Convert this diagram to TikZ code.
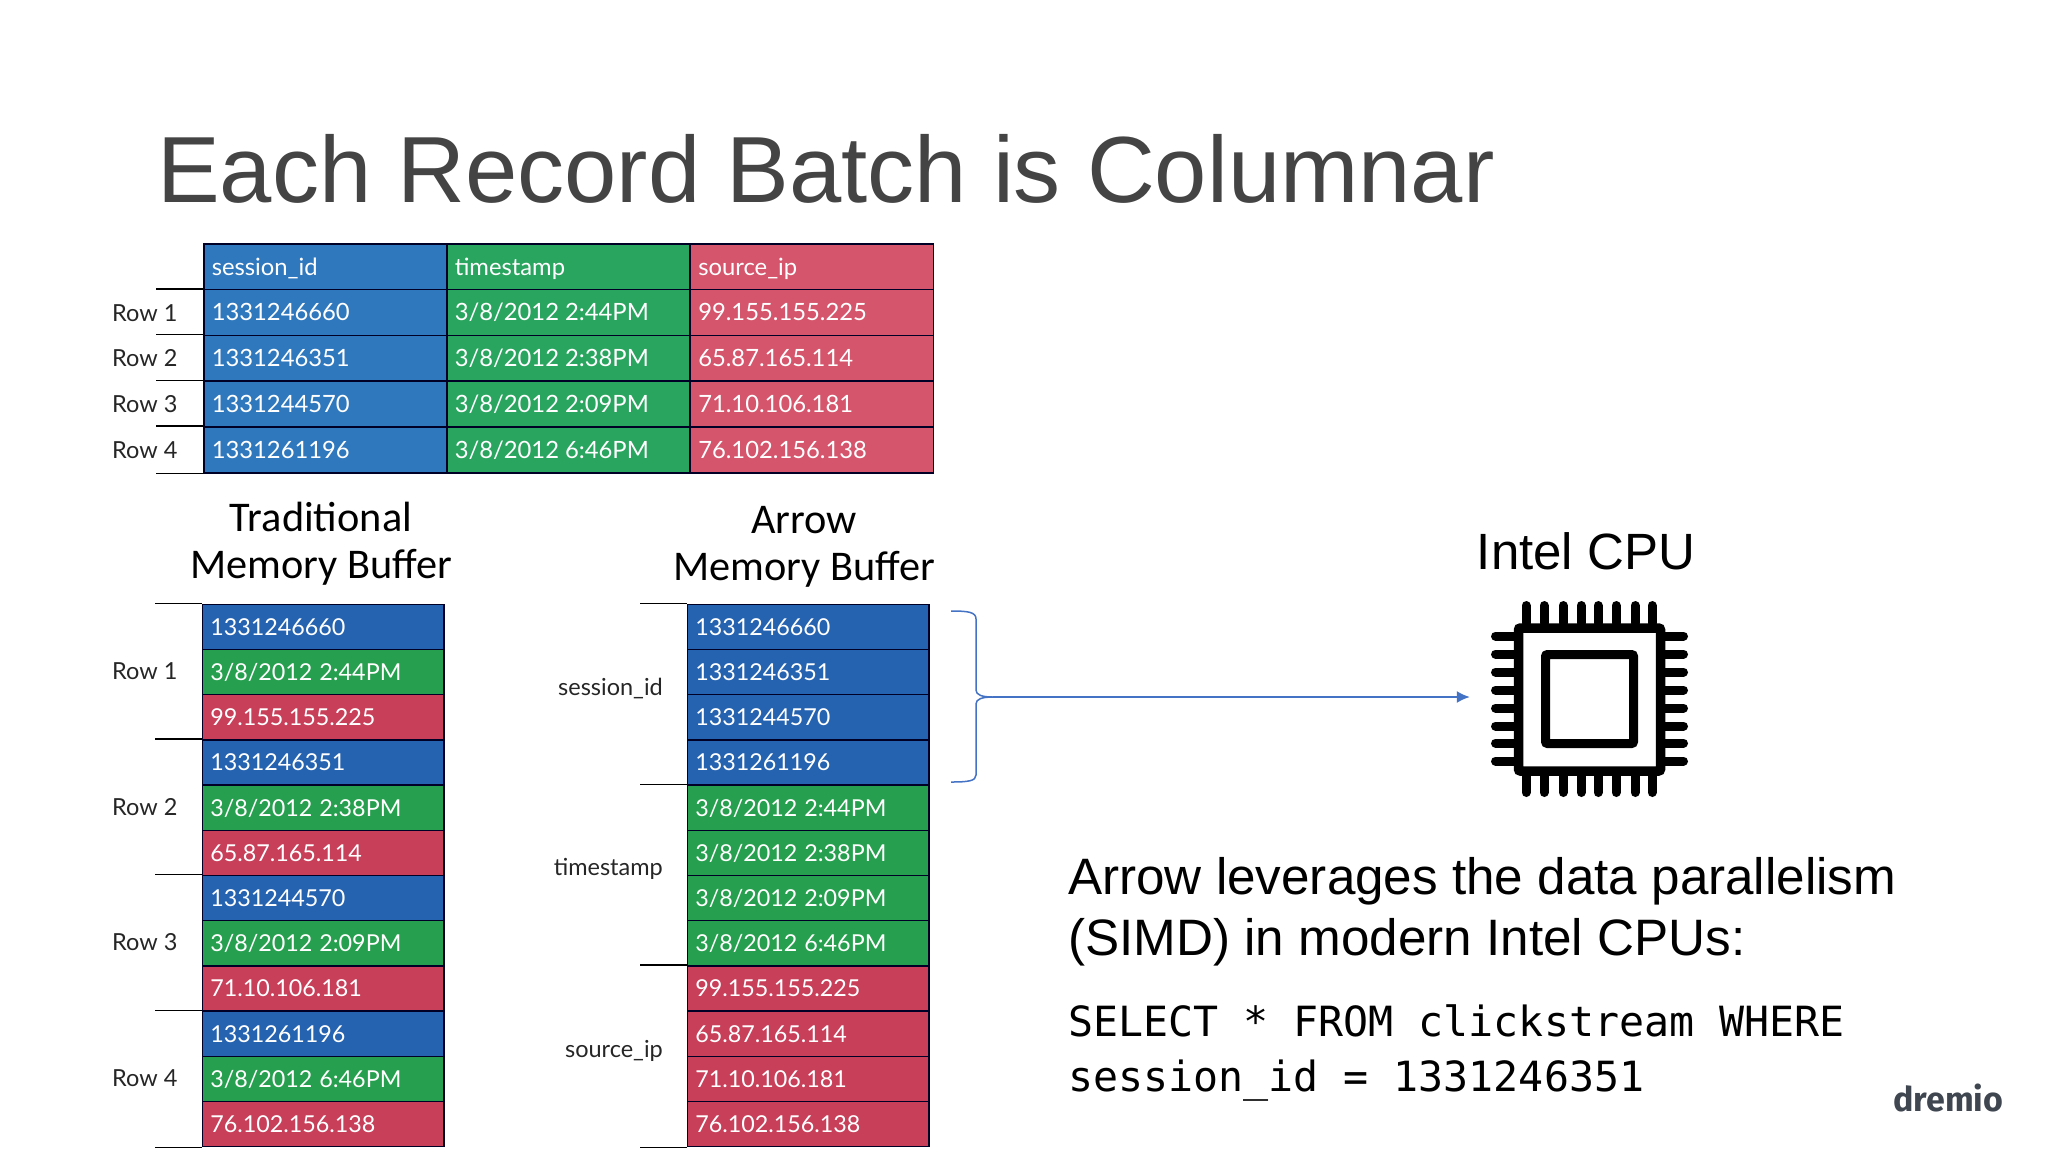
\documentclass[tikz,border=0pt]{standalone}
\usepackage{fontspec}
\setmainfont{Liberation Sans}
\newfontfamily\latofont{Lato}
\newfontfamily\carlitofont{Carlito}
\newfontfamily\monofont{DejaVu Sans Mono}
\newfontfamily\logofont{Fira Sans}[BoldFont={Fira Sans Bold}]
\usetikzlibrary{arrows.meta}
\definecolor{titlegray}{HTML}{444444}
\definecolor{topblue}{HTML}{2F78BE}
\definecolor{topgreen}{HTML}{2AA55F}
\definecolor{topred}{HTML}{D5556C}
\definecolor{memblue}{HTML}{2563B0}
\definecolor{memgreen}{HTML}{26A04E}
\definecolor{memred}{HTML}{C83F5A}
\definecolor{linkblue}{HTML}{4472C4}
\definecolor{logogray}{HTML}{3F4650}
\newcommand{\gp}{\hspace{7pt}}
\newcommand{\gq}{\hspace{6pt}}
\tikzset{
  x=1pt,y=-1pt,
  basecell/.style={draw=black!85!blue,line width=1.5pt,anchor=north west,inner xsep=8pt,inner ysep=0pt,
    text=white,align=left,text height=17pt,text depth=0pt},
  topcell/.style={basecell,minimum height=45.8pt,text width=227pt,minimum width=243pt,font=\latofont\fontsize{23.8}{24}\selectfont},
  memcell/.style={basecell,minimum height=45.2pt,text width=225.5pt,minimum width=241.5pt,font=\latofont\fontsize{23.3}{24}\selectfont},
  rowtick/.style={line width=1.5pt,black},
  sidelabel/.style={font=\latofont\fontsize{23.5}{24}\selectfont,text=black!85,inner sep=0pt},
  heading/.style={font=\carlitofont\fontsize{42.3}{47}\selectfont,align=center,inner sep=0pt,text=black},
  pin/.style={line width=9pt,line cap=round,black},
}
\newcommand{\topc}[5]{\node[topcell,fill=#4] (#1) at (#2,{243+45.8*#3}) {#5};}
\newcommand{\trad}[4]{\node[memcell,fill=#3] (#1) at (201.5,{603.5+45.2*#2}) {#4};}
\newcommand{\arrw}[4]{\node[memcell,fill=#3] (#1) at (686.5,{603.5+45.2*#2}) {#4};}
\begin{document}
\begin{tikzpicture}
\useasboundingbox (0,0) rectangle (2048,1152);
\node[anchor=base west,inner sep=0pt,text=titlegray,font=\fontsize{94}{94}\selectfont] (title) at (157,202) {Each Record Batch is Columnar};

% top table
\topc{a0}{203}{0}{topblue}{session\_id}
\topc{b0}{446}{0}{topgreen}{timestamp}
\topc{c0}{689.5}{0}{topred}{source\_ip}
\topc{a1}{203}{1}{topblue}{1331246660}
\topc{b1}{446}{1}{topgreen}{3/8/2012\gq 2:44PM}
\topc{c1}{689.5}{1}{topred}{99.155.155.225}
\topc{a2}{203}{2}{topblue}{1331246351}
\topc{b2}{446}{2}{topgreen}{3/8/2012\gq 2:38PM}
\topc{c2}{689.5}{2}{topred}{65.87.165.114}
\topc{a3}{203}{3}{topblue}{1331244570}
\topc{b3}{446}{3}{topgreen}{3/8/2012\gq 2:09PM}
\topc{c3}{689.5}{3}{topred}{71.10.106.181}
\topc{a4}{203}{4}{topblue}{1331261196}
\topc{b4}{446}{4}{topgreen}{3/8/2012\gq 6:46PM}
\topc{c4}{689.5}{4}{topred}{76.102.156.138}
\foreach \r in {1,2,3,4}{\draw[rowtick] (a\r.north west) -- ++(-47,0);}
\draw[rowtick] (a4.south west) -- ++(-47,0);
\node[sidelabel,anchor=west] (tr1) at (112,{244+45.8*1.5}) {Row 1};
\node[sidelabel,anchor=west] (tr2) at (112,{244+45.8*2.5}) {Row 2};
\node[sidelabel,anchor=west] (tr3) at (112,{244+45.8*3.5}) {Row 3};
\node[sidelabel,anchor=west] (tr4) at (112,{244+45.8*4.5}) {Row 4};

% headings
\node[heading] (h1) at (321,543.5) {Traditional\\Memory Buffer};
\node[heading] (h2) at (804,546.5) {Arrow\\Memory Buffer};

% traditional buffer
\trad{t0}{0}{memblue}{1331246660}
\trad{t1}{1}{memgreen}{3/8/2012\gp 2:44PM}
\trad{t2}{2}{memred}{99.155.155.225}
\trad{t3}{3}{memblue}{1331246351}
\trad{t4}{4}{memgreen}{3/8/2012\gp 2:38PM}
\trad{t5}{5}{memred}{65.87.165.114}
\trad{t6}{6}{memblue}{1331244570}
\trad{t7}{7}{memgreen}{3/8/2012\gp 2:09PM}
\trad{t8}{8}{memred}{71.10.106.181}
\trad{t9}{9}{memblue}{1331261196}
\trad{t10}{10}{memgreen}{3/8/2012\gp 6:46PM}
\trad{t11}{11}{memred}{76.102.156.138}
\foreach \r in {0,3,6,9}{\draw[rowtick] (t\r.north west) -- ++(-47,0);}
\draw[rowtick] (t11.south west) -- ++(-47,0);
\node[sidelabel,anchor=west] (lr1) at (112,{603.5+45.2*1.5}) {Row 1};
\node[sidelabel,anchor=west] (lr2) at (112,{603.5+45.2*4.5}) {Row 2};
\node[sidelabel,anchor=west] (lr3) at (112,{603.5+45.2*7.5}) {Row 3};
\node[sidelabel,anchor=west] (lr4) at (112,{603.5+45.2*10.5}) {Row 4};

% arrow buffer
\arrw{m0}{0}{memblue}{1331246660}
\arrw{m1}{1}{memblue}{1331246351}
\arrw{m2}{2}{memblue}{1331244570}
\arrw{m3}{3}{memblue}{1331261196}
\arrw{m4}{4}{memgreen}{3/8/2012\gp 2:44PM}
\arrw{m5}{5}{memgreen}{3/8/2012\gp 2:38PM}
\arrw{m6}{6}{memgreen}{3/8/2012\gp 2:09PM}
\arrw{m7}{7}{memgreen}{3/8/2012\gp 6:46PM}
\arrw{m8}{8}{memred}{99.155.155.225}
\arrw{m9}{9}{memred}{65.87.165.114}
\arrw{m10}{10}{memred}{71.10.106.181}
\arrw{m11}{11}{memred}{76.102.156.138}
\foreach \r in {0,4,8}{\draw[rowtick] (m\r.north west) -- ++(-47,0);}
\draw[rowtick] (m11.south west) -- ++(-47,0);
\node[sidelabel,anchor=east] (s1) at (663,689) {session\_id};
\node[sidelabel,anchor=east] (s2) at (663,869) {timestamp};
\node[sidelabel,anchor=east] (s3) at (663,1051) {source\_ip};

% brace and arrow
\coordinate (bracetip) at (993,697);
\draw[linkblue,line width=1.5pt]
  (951,611) .. controls (968,611) and (976,612) .. (976,619)
  -- (976,690) .. controls (976,695) and (982,697) .. (bracetip)
  .. controls (982,697) and (976,699) .. (976,704)
  -- (976,775) .. controls (976,781) and (968,782) .. (951,782);

% CPU icon
\node[draw=black,line width=9.5pt,rounded corners=2pt,minimum width=142pt,minimum height=143pt,inner sep=0pt] (cpu) at (1589.5,699.5) {};
\node[draw=black,line width=9pt,rounded corners=2pt,minimum width=88pt,minimum height=89pt,inner sep=0pt] (core) at (1589.5,699) {};
\foreach \x in {1526,1544,1563,1581,1598,1616,1635,1652}{
  \draw[pin] (\x,605.5) -- (\x,623);
  \draw[pin] (\x,775) -- (\x,792.5);
}
\foreach \y in {636,654,672,690,708,726,743,761}{
  \draw[pin] (1495.5,\y) -- (1514,\y);
  \draw[pin] (1665,\y) -- (1683.5,\y);
}
\draw[linkblue,line width=1.5pt,-{Latex[length=13pt,width=12pt]},shorten >=44pt] (bracetip) -- (bracetip -| cpu.west);

\node[anchor=base,inner sep=0pt,text=black,font=\fontsize{51}{51}\selectfont] (cputitle) at (1586,569) {Intel CPU};

% text
\node[anchor=base west,inner sep=0pt,text=black,font=\fontsize{51.2}{51}\selectfont] (t1) at (1068,894) {Arrow leverages the data parallelism};
\node[anchor=base west,inner sep=0pt,text=black,font=\fontsize{51.2}{51}\selectfont] (t2) at (1068,955) {(SIMD) in modern Intel CPUs:};
\node[anchor=base west,inner sep=0pt,text=black,font=\monofont\fontsize{41.6}{41.6}\selectfont] (q1) at (1068,1036) {SELECT * FROM clickstream WHERE};
\node[anchor=base west,inner sep=0pt,text=black,font=\monofont\fontsize{41.6}{41.6}\selectfont] (q2) at (1068,1091) {session\_id = 1331246351};
\node[anchor=base west,inner sep=0pt,text=logogray,font=\logofont\bfseries\fontsize{34}{34}\selectfont] (logo) at (1893,1111) {dremio};
\end{tikzpicture}
\end{document}
